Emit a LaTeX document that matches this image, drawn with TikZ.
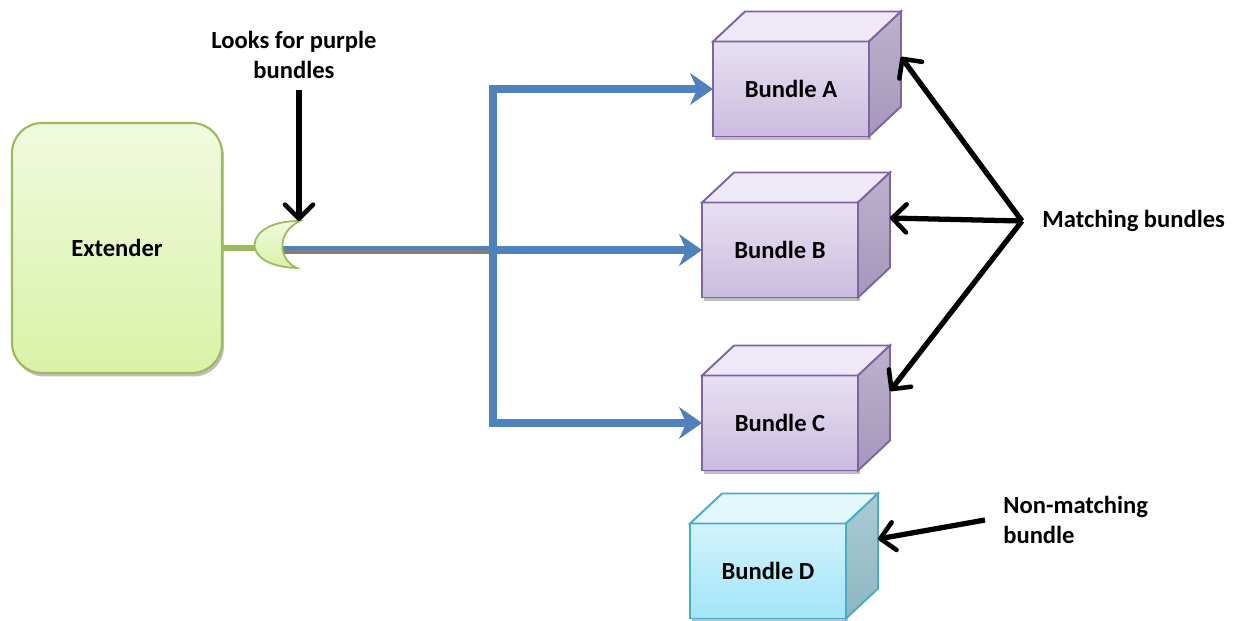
\documentclass[tikz,border=0pt]{standalone}
\usepackage{fontspec}
\setmainfont{Carlito}
\usetikzlibrary{positioning,calc,arrows.meta,shadows}

\definecolor{extfill}{HTML}{F1FADF}
\definecolor{extfillb}{HTML}{D9F2A6}
\definecolor{extline}{HTML}{9BBB59}
\definecolor{busblue}{HTML}{4F81BD}
\definecolor{busgray}{HTML}{7F7F7F}
\definecolor{purpline}{HTML}{8064A2}
\definecolor{purpfront}{HTML}{E7E0F1}
\definecolor{purpfrontb}{HTML}{CBBCE0}
\definecolor{purptop}{HTML}{EEE9F6}
\definecolor{purpside}{HTML}{BBB2CC}
\definecolor{purpsideb}{HTML}{A597BC}
\definecolor{cyanline}{HTML}{4BACC6}
\definecolor{cyanfront}{HTML}{D2F3FC}
\definecolor{cyanfrontb}{HTML}{A2E5F7}
\definecolor{cyantop}{HTML}{E3F8FD}
\definecolor{cyanside}{HTML}{A9CBD4}
\definecolor{cyansideb}{HTML}{8EB7C2}

\begin{document}
\begin{tikzpicture}[x=0.02cm,y=-0.02cm,
  lbl/.style={font=\fontsize{14}{17}\selectfont\bfseries},
  note/.style={lbl,inner sep=0pt},
  boxshadow/.style={drop shadow={shadow xshift=0.04cm,shadow yshift=-0.07cm,fill=black!50,opacity=0.5}},
  extender/.style={lbl,draw=extline,line width=1.2pt,top color=extfill,bottom color=extfillb,
    rounded corners=0.6cm,minimum width=4.2cm,minimum height=5cm,outer sep=0pt,boxshadow},
  bundle/.style={lbl,draw=purpline,line width=1.1pt,top color=purpfront,bottom color=purpfrontb,
    minimum width=3.12cm,minimum height=1.9cm,outer sep=0pt,boxshadow},
  bundleoff/.style={bundle,draw=cyanline,top color=cyanfront,bottom color=cyanfrontb},
  bus/.style={draw=busblue,line width=4pt},
  busarrow/.style={bus,-{Stealth[length=13pt,width=18pt,inset=4pt]}},
  callout/.style={line width=3pt,-{Straight Barb[length=8pt,width=16pt,line width=2.6pt,round]}},
]
  \useasboundingbox (0,0) rectangle (1234,620);

  % extender and the four bundles
  \node[extender] (ext) at (117,248) {Extender};
  \node[bundle] (bA) at (791,89) {Bundle A};
  \node[bundle] (bB) at (780,250) {Bundle B};
  \node[bundle] (bC) at (780,423) {Bundle C};
  \node[bundleoff] (bD) at (768,571) {Bundle D};

  % top and side faces of the boxes
  \foreach \bun in {bA,bB,bC}{
    \draw[purpline,line width=1.1pt,fill=purptop] (\bun.north west) -- ++(32,-30) -- ++(156,0) -- (\bun.north east) -- cycle;
    \draw[purpline,line width=1.1pt,top color=purpside,bottom color=purpsideb] (\bun.north east) -- ++(32,-30) -- ++(0,95) -- (\bun.south east) -- cycle;
    \coordinate (\bun-tip) at ($(\bun.east)+(32,-32)$);
  }
  \draw[cyanline,line width=1.1pt,fill=cyantop] (bD.north west) -- ++(32,-30) -- ++(156,0) -- (bD.north east) -- cycle;
  \draw[cyanline,line width=1.1pt,top color=cyanside,bottom color=cyansideb] (bD.north east) -- ++(32,-30) -- ++(0,95) -- (bD.south east) -- cycle;
  \coordinate (bD-tip) at ($(bD.east)+(32,-32)$);

  % service line out of the extender
  \coordinate (plug) at (262,248);
  \coordinate (busstart) at (280,250);
  \coordinate (jn) at (493,250);
  \coordinate (socket) at (299,221);
  \draw[extline,line width=3.4pt] (ext.east) -- (plug);
  \draw[busgray,line width=4.5pt] (busstart) -- (jn);
  \draw[busblue,line width=2.2pt] ([yshift=0.04cm]busstart) -- ([yshift=0.04cm]jn);
  \draw[busarrow] (jn) |- (bA.west);
  \draw[busarrow] (jn) -- (bB.west);
  \draw[busarrow] (jn) |- (bC.west);

  % the socket
  \draw[extline,line width=1pt,top color=extfill,bottom color=extfillb]
    (300,221) .. controls (244,220) and (236,266) .. (297,268)
    .. controls (278,260) and (276,232) .. (300,221) -- cycle;

  % notes
  \node[note,align=center] (looks) at (294,55) {Looks for purple\\bundles};
  \draw[callout,shorten <=0.22cm] (looks.south -| socket) -- (socket);

  \coordinate (hub) at (1022,221);
  \node[note,right=0.4cm of hub] (match) {Matching bundles};
  \foreach \bun in {bA,bB,bC}
    \draw[callout] (hub) -- (\bun-tip);

  \coordinate (nmhub) at (985,520);
  \node[note,align=left,right=0.36cm of nmhub] (nonmatch) {Non-matching\\bundle};
  \draw[callout] (nmhub) -- (bD-tip);
\end{tikzpicture}
\end{document}
